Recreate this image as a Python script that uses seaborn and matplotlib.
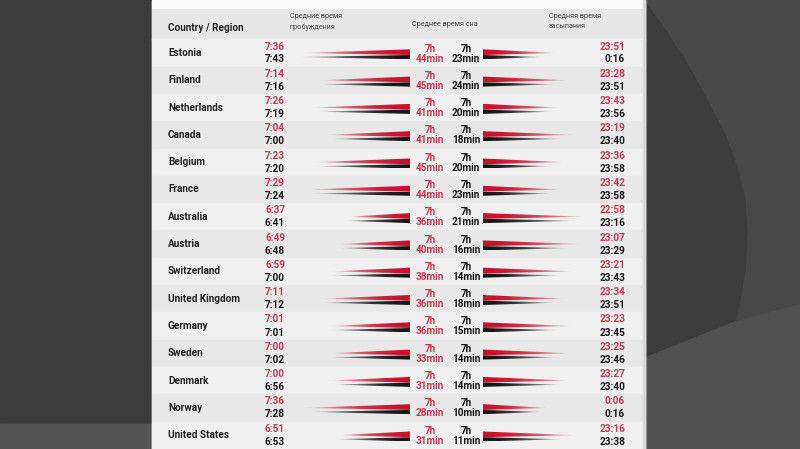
import numpy as np
import matplotlib.pyplot as plt
from matplotlib.patches import Rectangle, Polygon
import seaborn as sns

# data (red = upper value, black = lower value)
countries = ["Estonia", "Finland", "Netherlands", "Canada", "Belgium", "France",
             "Australia", "Austria", "Switzerland", "United Kingdom", "Germany",
             "Sweden", "Denmark", "Norway", "United States"]
wake_red = ["7:36", "7:14", "7:26", "7:04", "7:23", "7:29", "6:37", "6:49",
            "6:59", "7:11", "7:01", "7:00", "7:00", "7:36", "6:51"]
wake_black = ["7:43", "7:16", "7:19", "7:00", "7:20", "7:24", "6:41", "6:48",
              "7:00", "7:12", "7:01", "7:02", "6:56", "7:28", "6:53"]
sleep_red = ["7:44", "7:45", "7:41", "7:41", "7:45", "7:44", "7:36", "7:40",
             "7:38", "7:36", "7:36", "7:33", "7:31", "7:28", "7:31"]
sleep_black = ["7:23", "7:24", "7:20", "7:18", "7:20", "7:23", "7:21", "7:16",
               "7:14", "7:18", "7:15", "7:14", "7:14", "7:10", "7:11"]
bed_red = ["23:51", "23:28", "23:43", "23:19", "23:36", "23:42", "22:58", "23:07",
           "23:21", "23:34", "23:23", "23:25", "23:27", "0:06", "23:16"]
bed_black = ["0:16", "23:51", "23:56", "23:40", "23:58", "23:58", "23:16", "23:29",
             "23:43", "23:51", "23:45", "23:46", "23:40", "0:16", "23:38"]

RED = "#c8102e"
RED_TXT = "#cc3550"
BLK = "#151515"


def to_min(s, night=False):
    h, m = map(int, s.split(":"))
    t = h * 60 + m
    if night and h < 12:
        t += 24 * 60
    return t


def dur_label(s):
    h, m = s.split(":")
    return f"{int(h)}h\n{int(m)}min"


W, H = 800, 449
ROW0, ROW_H = 53, 27.3
n = len(countries)
rows_px = [ROW0 + i * ROW_H for i in range(n)]

sns.set_theme(style="white")
plt.rcParams['font.family'] = ['Roboto', 'DejaVu Sans']

fig = plt.figure(figsize=(8, 4.49), dpi=100)
fig.patch.set_facecolor("#3c3c3c")

# background / panel in pixel coordinates
bg = fig.add_axes([0, 0, 1, 1])
bg.set_xlim(0, W)
bg.set_ylim(H, 0)
bg.axis("off")
bg.add_patch(Rectangle((0, 0), W, H, color="#3c3c3c", zorder=0))
bg.add_patch(Rectangle((645, 0), W - 645, H, color="#484848", zorder=0))
bg.add_patch(Polygon([(643, 0), (662, 25), (685, 60), (707, 100), (725, 135),
                      (737, 167), (745, 200), (747, 233), (745, 270), (740, 300),
                      (735, 322), (645, 358)],
                     closed=True, color="#3d3d3d", zorder=0.5))
bg.add_patch(Polygon([(645, 358), (735, 322), (800, 305), (800, 449), (645, 449)],
                     closed=True, color="#505050", zorder=0.6))
bg.add_patch(Rectangle((0, 424), 152, H - 424, color="#545454", zorder=0))
bg.add_patch(Rectangle((152, 0), 493, H, color="#ededed", zorder=1))
bg.add_patch(Rectangle((152, 0), 493, 9, color="#fafafa", zorder=1.1))
bg.add_patch(Rectangle((152, 9), 493, 31, color="#e7e7e7", zorder=1.1))
for i, y in enumerate(rows_px):
    c = "#f0f0f0" if i % 2 == 0 else "#e8e8e8"
    bg.add_patch(Rectangle((152, y - ROW_H / 2), 493, ROW_H, color=c, zorder=1.2))
bg.add_patch(Rectangle((643, 0), 2, H, color="#d8d8d8", zorder=1.3))

FS = 7.2
# header
bg.text(168, 28, "Country / Region", fontsize=FS, fontweight="bold",
        color="#222222", va="center", ha="left", zorder=3)
bg.text(290, 22, "Средние время\nпробуждения", fontsize=5.2, color="#444444",
        va="center", ha="left", linespacing=1.6, zorder=3)
bg.text(412, 24, "Среднее время сна", fontsize=5.2, color="#444444",
        va="center", ha="left", zorder=3)
bg.text(549, 22, "Средняя время\nзасыпания", fontsize=5.2, color="#444444",
        va="center", ha="left", linespacing=1.6, zorder=3)

# row labels and values
for i, y in enumerate(rows_px):
    bg.text(168, y, countries[i], fontsize=FS, fontweight="bold", color="#222222",
            va="center", ha="left", zorder=3)
    bg.text(285, y - 6.5, wake_red[i], fontsize=FS, fontweight="bold", color=RED_TXT,
            va="center", ha="right", zorder=3)
    bg.text(285, y + 6.5, wake_black[i], fontsize=FS, fontweight="bold", color=BLK,
            va="center", ha="right", zorder=3)
    bg.text(430, y + 0.5, dur_label(sleep_red[i]), fontsize=FS, fontweight="bold",
            color=RED_TXT, va="center", ha="center", linespacing=1.0, zorder=3)
    bg.text(466, y + 0.5, dur_label(sleep_black[i]), fontsize=FS, fontweight="bold",
            color=BLK, va="center", ha="center", linespacing=1.0, zorder=3)
    bg.text(625, y - 6.5, bed_red[i], fontsize=FS, fontweight="bold", color=RED_TXT,
            va="center", ha="right", zorder=3)
    bg.text(625, y + 6.5, bed_black[i], fontsize=FS, fontweight="bold", color=BLK,
            va="center", ha="right", zorder=3)

# tapered bars in data coordinates (row units on y)
y_top = -ROW0 / ROW_H
y_bot = (H - ROW0) / ROW_H
px = 1 / ROW_H


def gradient(color, npts=64):
    rgba = np.zeros((1, npts, 4))
    rgba[..., :3] = plt.matplotlib.colors.to_rgb(color)
    f = np.linspace(0, 1, npts)
    rgba[0, :, 3] = np.clip(1 - f ** 2.2, 0, 1)
    return rgba


def wedge(ax, base, tip, row, top, bot, tipy, color):
    poly = Polygon([(base, row + top * px), (base, row + bot * px), (tip, row + tipy * px)],
                   closed=True, facecolor="none", edgecolor="none")
    ax.add_patch(poly)
    im = ax.imshow(gradient(color), extent=[base, tip, row + bot * px, row + top * px],
                   aspect="auto", interpolation="bilinear", zorder=2)
    im.set_clip_path(poly)


wake_base = 313
ax_w = fig.add_axes([290 / W, 0, 120 / W, 1])
ax_w.set_xlim(473, wake_base)
ax_w.set_ylim(y_bot, y_top)
ax_w.axis("off")
ax_w.patch.set_alpha(0)

bed_base = 1560
ax_b = fig.add_axes([483 / W, 0, 117 / W, 1])
ax_b.set_xlim(bed_base, 1355)
ax_b.set_ylim(y_bot, y_top)
ax_b.axis("off")
ax_b.patch.set_alpha(0)

for i in range(n):
    wedge(ax_w, wake_base, to_min(wake_red[i]), i, -3.7, 2.0, 0.0, RED)
    wedge(ax_w, wake_base, to_min(wake_black[i]), i, 2.0, 6.3, 4.0, BLK)
    wedge(ax_b, bed_base, to_min(bed_red[i], night=True), i, -3.7, 2.0, 0.0, RED)
    wedge(ax_b, bed_base, to_min(bed_black[i], night=True), i, 2.0, 6.3, 4.0, BLK)

fig.savefig("out.png", dpi=100, facecolor=fig.get_facecolor())
